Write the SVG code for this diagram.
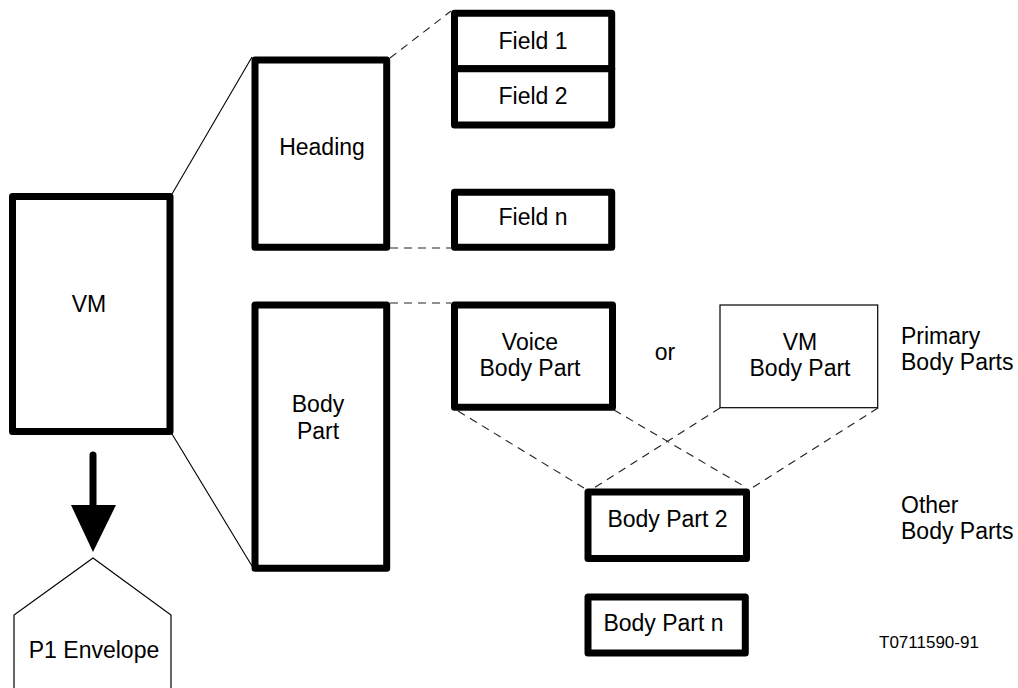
<svg xmlns="http://www.w3.org/2000/svg" width="1018" height="688" viewBox="0 0 1018 688">
<style>
.thick{fill:#fff;stroke:#000;stroke-width:7;stroke-linejoin:round}
.thin{fill:#fff;stroke:#000;stroke-width:1.2}
.solid{fill:none;stroke:#000;stroke-width:1.1}
.dash{fill:none;stroke:#222;stroke-width:1.1;stroke-dasharray:8 6}
text{font-family:"Liberation Sans",Arial,sans-serif;font-size:23px;fill:#000}
.c{text-anchor:middle}
.small{font-size:17px}
</style>
<rect width="1018" height="688" fill="#fff"/>
<g id="connectors">
<line class="solid" x1="172" y1="194" x2="252" y2="57"/>
<line class="solid" x1="172" y1="434" x2="252" y2="566"/>
<line class="dash" x1="390" y1="58" x2="451" y2="11"/>
<line class="dash" x1="390" y1="248" x2="451" y2="248"/>
<line class="dash" x1="390" y1="303" x2="451" y2="303"/>
<line class="dash" x1="458" y1="411" x2="584" y2="488"/>
<line class="dash" x1="614" y1="410" x2="747" y2="488"/>
<line class="dash" x1="720" y1="408" x2="594" y2="488"/>
<line class="dash" x1="878" y1="408" x2="752" y2="488"/>
<line x1="93" y1="455" x2="93" y2="507" stroke="#000" stroke-width="7" stroke-linecap="round"/>
<polygon points="71,505 116,505 93,552" fill="#000"/>
</g>
<g id="vm">
<rect class="thick" x="12.5" y="196.5" width="157.5" height="235"/>
<text class="c" x="89" y="312">VM</text>
</g>
<g id="heading">
<rect class="thick" x="255" y="60" width="131.7" height="187.3"/>
<text class="c" x="322" y="155">Heading</text>
</g>
<g id="field1">
<rect class="thick" x="454.5" y="13.3" width="157.2" height="55.4"/>
<text class="c" x="533" y="48.5">Field 1</text>
</g>
<g id="field2">
<rect class="thick" x="454.5" y="68.7" width="157.2" height="56.3"/>
<text class="c" x="533" y="103.5">Field 2</text>
</g>
<g id="fieldn">
<rect class="thick" x="454.5" y="192.3" width="157.2" height="55"/>
<text class="c" x="533" y="225">Field n</text>
</g>
<g id="bodypart">
<rect class="thick" x="255" y="305" width="131.7" height="263.3"/>
<text class="c" x="318" y="411.5">Body</text>
<text class="c" x="318" y="438.5">Part</text>
</g>
<g id="voicebodypart">
<rect class="thick" x="454.5" y="305" width="158" height="102.3"/>
<text class="c" x="530" y="349.5">Voice</text>
<text class="c" x="530" y="376">Body Part</text>
</g>
<g id="or">
<text class="c" x="665" y="360">or</text>
</g>
<g id="vmbodypart">
<rect class="thin" x="720" y="305" width="157.7" height="102.7"/>
<text class="c" x="800" y="350">VM</text>
<text class="c" x="800" y="376">Body Part</text>
</g>
<g id="primary">
<text x="901" y="343.5">Primary</text>
<text x="901" y="369.5">Body Parts</text>
</g>
<g id="bodypart2">
<rect class="thick" x="588" y="492" width="158.5" height="66.5"/>
<text class="c" x="667.5" y="527">Body Part 2</text>
</g>
<g id="other">
<text x="901" y="513">Other</text>
<text x="901" y="538.5">Body Parts</text>
</g>
<g id="bodypartn">
<rect class="thick" x="588" y="597" width="157.3" height="56"/>
<text class="c" x="663.5" y="631">Body Part n</text>
</g>
<g id="p1envelope">
<path class="thin" d="M14,690 L14,615 L93,558 L171,615 L171,690"/>
<text class="c" x="94" y="658">P1 Envelope</text>
</g>
<g id="label">
<text class="small" x="879" y="648">T0711590-91</text>
</g>
</svg>
